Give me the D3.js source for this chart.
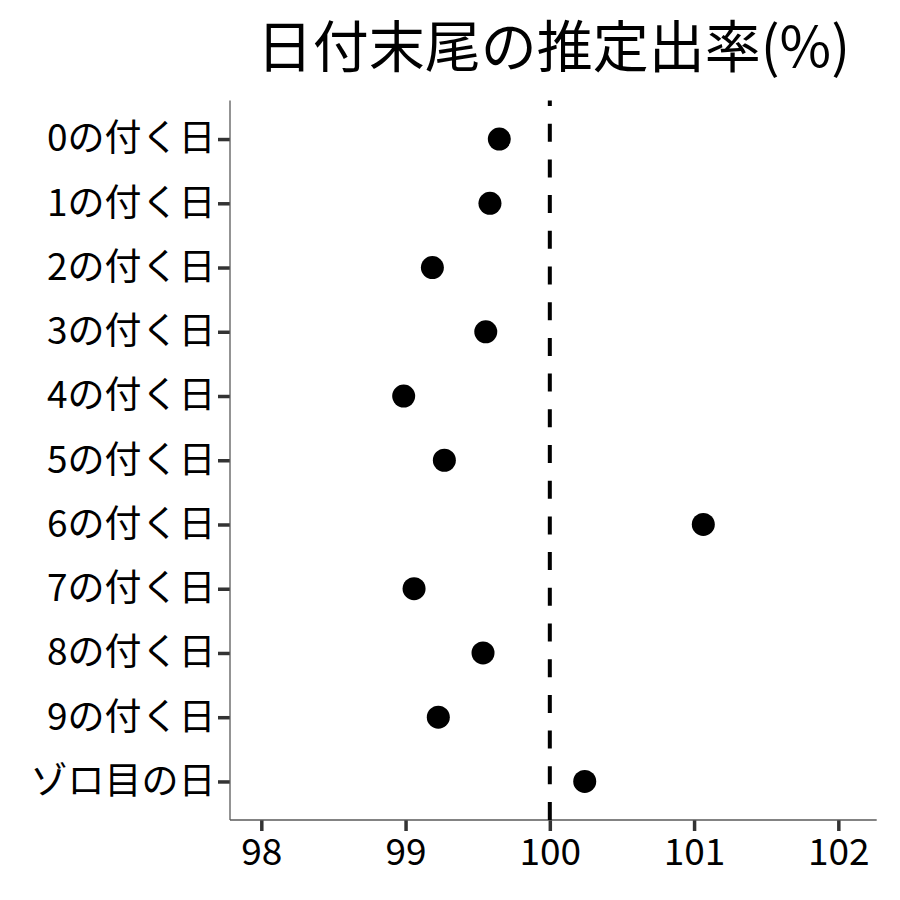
<!DOCTYPE html>
<html><head><meta charset="utf-8">
<script src="https://cdn.jsdelivr.net/npm/d3@7"></script>
<style>body{margin:0;background:#fff}svg{display:block}text{font-family:"Noto Sans CJK JP","Noto Sans",sans-serif}</style>
</head><body>
<svg id="c" width="900" height="900"></svg>
<script>
const categories = ["0の付く日","1の付く日","2の付く日","3の付く日","4の付く日","5の付く日","6の付く日","7の付く日","8の付く日","9の付く日","ゾロ目の日"];
const values = [99.65,99.585,99.186,99.556,98.987,99.269,101.064,99.059,99.537,99.227,100.242];
const xTicks = [98,99,100,101,102];
const refValue = 100;
const title = "日付末尾の推定出率(%)";

const svg = d3.select("#c");
const L = 230, R = 876.7, T = 100.5, B = 820;
const x = d3.scaleLinear().domain([97.783, 102.266]).range([L, R]);
const y = d3.scalePoint().domain(categories).range([T, B]).padding(0.6);

// title
svg.append("text").attr("x", (L+R)/2).attr("y", 67).attr("text-anchor","middle")
  .attr("font-size", 56).attr("fill","#000").text(title);

// x axis
const gx = svg.append("g").attr("transform", `translate(0,${B})`)
  .call(d3.axisBottom(x).tickValues(xTicks).tickSize(11).tickPadding(8).tickFormat(d3.format("d")));
gx.select(".domain").remove();
gx.selectAll(".tick line").attr("stroke","#333").attr("stroke-width",3.5);
gx.selectAll(".tick text").attr("font-size",37).attr("fill","#000");

// y axis
const gy = svg.append("g").attr("transform", `translate(${L},0)`)
  .call(d3.axisLeft(y).tickSize(12).tickPadding(2.5));
gy.select(".domain").remove();
gy.selectAll(".tick line").attr("stroke","#333").attr("stroke-width",3.5);
gy.selectAll(".tick text").attr("font-size",37).attr("fill","#000");

// axis lines
svg.append("line").attr("x1",L).attr("x2",L).attr("y1",T).attr("y2",B).attr("stroke","#5a5a5a").attr("stroke-width",1.3);
svg.append("line").attr("x1",L).attr("x2",R).attr("y1",B).attr("y2",B).attr("stroke","#5a5a5a").attr("stroke-width",1.3);

// reference line
svg.append("line").attr("x1",x(refValue)).attr("x2",x(refValue)).attr("y1",B).attr("y2",T)
  .attr("stroke","#000").attr("stroke-width",4).attr("stroke-dasharray","18,17.7");

// points
svg.append("g").selectAll("circle").data(categories).join("circle")
  .attr("cx",(d,i)=>x(values[i])).attr("cy",d=>y(d)).attr("r",11.5).attr("fill","#000");
</script>
</body></html>
